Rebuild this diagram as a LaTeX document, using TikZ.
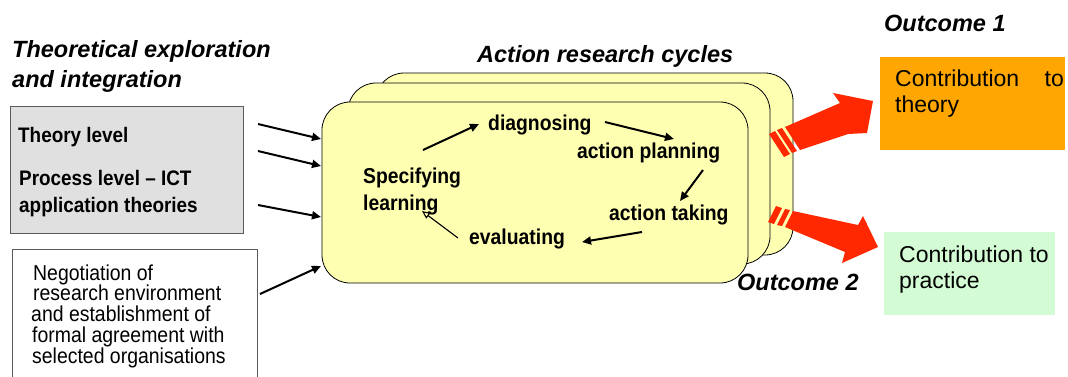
\documentclass[tikz,border=0pt]{standalone}
\usepackage{fontspec}
\setmainfont{Liberation Sans}
\newfontfamily\condfont[FakeStretch=0.9,Ligatures=TeX]{Liberation Sans}
\usetikzlibrary{arrows.meta}
\definecolor{cardfill}{RGB}{255,255,178}
\definecolor{grayfill}{RGB}{224,224,224}
\definecolor{boxline}{RGB}{90,90,90}
\definecolor{orangefill}{RGB}{255,166,0}
\definecolor{greenfill}{RGB}{212,252,212}
\definecolor{redarrow}{RGB}{255,40,0}
\begin{document}
\begin{tikzpicture}[x=1pt,y=-1pt,
  lbl/.style={anchor=base west, inner sep=0pt},
  headtxt/.style={lbl, font=\fontsize{23.5}{26}\selectfont\bfseries\itshape},
  lvltxt/.style={lbl, font=\condfont\fontsize{21}{22}\selectfont\bfseries},
  negtxt/.style={lbl, font=\condfont\fontsize{21.6}{21}\selectfont},
  cyctxt/.style={lbl, font=\condfont\fontsize{21.5}{22}\selectfont\bfseries},
  contxt/.style={lbl, font=\fontsize{23}{26}\selectfont},
  card/.style={draw=black, line width=0.8pt, fill=cardfill, rounded corners=28pt, inner sep=0pt},
  plainbox/.style={draw=boxline, line width=0.8pt, inner sep=0pt},
  inarrow/.style={-{Triangle[length=9pt,width=8pt]}, line width=2pt},
  thinarrow/.style={-{Triangle[length=8pt,width=7pt,open]}, line width=1.1pt},
  redfill/.style={fill=redarrow}
]
\useasboundingbox (0,0) rectangle (1068,376);
\clip (0,0) rectangle (1068,376);

% left texts and boxes
\node[headtxt] (h1) at (12,57) {Theoretical exploration};
\node[headtxt] (h2) at (12,87) {and integration};

\node[plainbox, fill=grayfill, minimum width=233pt, minimum height=127pt] (gray) at (126.5,169.5) {};
\node[lvltxt] (t1) at (18,142) {Theory level};
\node[lvltxt] (t2) at (19,185) {Process level \textendash\ ICT};
\node[lvltxt] (t3) at (19,212) {application theories};

\node[plainbox, fill=white, minimum width=245pt, minimum height=150pt] (white) at (134.5,324) {};
\node[negtxt] (n1) at (33,280) {Negotiation of};
\node[negtxt] (n2) at (33,300) {research environment};
\node[negtxt] (n3) at (31,321) {and establishment of};
\node[negtxt] (n4) at (32,342) {formal agreement with};
\node[negtxt] (n5) at (32,363) {selected organisations};

% cards
\node[headtxt] (arc) at (477,62) {Action research cycles};
\node[card, minimum width=417pt, minimum height=182pt] (back) at (584.5,164) {};
\node[card, minimum width=422pt, minimum height=181pt] (middle) at (559,173.5) {};
\node[card, minimum width=426pt, minimum height=181pt] (front) at (535,192.5) {};

% inputs
\coordinate (i1s) at (258,124); \coordinate (i1e) at (321,139);
\coordinate (i2s) at (258,151); \coordinate (i2e) at (321,166);
\coordinate (i3s) at (258,205); \coordinate (i3e) at (321,217);
\coordinate (i4s) at (260,294); \coordinate (i4e) at (321,266);
\draw[inarrow] (i1s) -- (i1e);
\draw[inarrow] (i2s) -- (i2e);
\draw[inarrow] (i3s) -- (i3e);
\draw[inarrow] (i4s) -- (i4e);

% cycle
\node[cyctxt] (diag) at (488,130) {diagnosing};
\node[cyctxt] (plan) at (577,158) {action planning};
\node[cyctxt] (take) at (609,220) {action taking};
\node[cyctxt] (eval) at (469,244) {evaluating};
\node[cyctxt] (spec) at (363,183) {Specifying};
\node[cyctxt] (learn) at (363,210) {learning};

\coordinate (c1s) at (423,150); \coordinate (c1e) at (479,124);
\coordinate (c2s) at (605,122); \coordinate (c2e) at (674,139);
\coordinate (c3s) at (703,170); \coordinate (c3e) at (680,201);
\coordinate (c4s) at (642,232); \coordinate (c4e) at (582,242);
\coordinate (c5s) at (458,238); \coordinate (c5e) at (422,211);
\draw[inarrow] (c1s) -- (c1e);
\draw[inarrow] (c2s) -- (c2e);
\draw[inarrow] (c3s) -- (c3e);
\draw[inarrow] (c4s) -- (c4e);
\draw[thinarrow] (c5s) -- (c5e);

% red outcome arrows
\fill[redfill] (785,127) -- (840,103) -- (833,93) -- (873,101) -- (867,133) -- (848,134) -- (800,150) -- cycle;
\fill[redfill] (782,128) -- (797,151) -- (792,153) -- (777,130) -- cycle;
\fill[redfill] (775,131) -- (790,154) -- (784,157) -- (769,134) -- cycle;

\fill[redfill] (793,211) -- (858,225) -- (863,216) -- (878,247) -- (842,263) -- (845,252) -- (785,227) -- cycle;
\fill[redfill] (790,210) -- (782,226) -- (777,225) -- (785,209) -- cycle;
\fill[redfill] (782,208) -- (774,224) -- (768,222) -- (776,206) -- cycle;

% outcomes
\node[headtxt] (o1) at (884,31) {Outcome 1};
\node[headtxt] (o2) at (737,290) {Outcome 2};

\node[fill=orangefill, inner sep=0pt, minimum width=185pt, minimum height=93pt] (theory) at (972.5,103.5) {};
\node[contxt] (ct1) at (895,86) {Contribution};
\node[contxt, anchor=base east] (ct2) at (1064,86) {to};
\node[contxt] (ct3) at (895,112) {theory};

\node[fill=greenfill, inner sep=0pt, minimum width=171pt, minimum height=83pt] (practice) at (969.5,273.5) {};
\node[contxt] (cp1) at (899,262) {Contribution to};
\node[contxt] (cp2) at (899,288) {practice};
\end{tikzpicture}
\end{document}
